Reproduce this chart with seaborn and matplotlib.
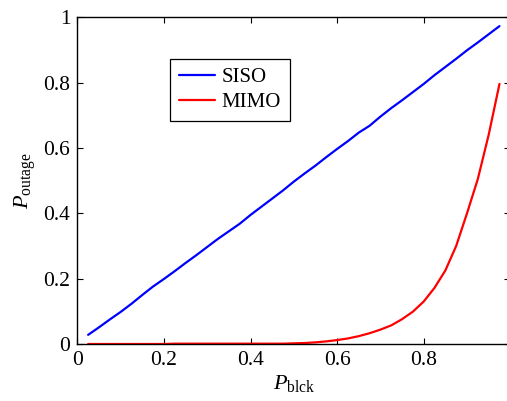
import numpy as np
import pandas as pd
import matplotlib
matplotlib.use("Agg")
import matplotlib.pyplot as plt
import seaborn as sns

# Blocking probability grid
p_blck = [0.025, 0.05, 0.075, 0.1, 0.125, 0.15, 0.175, 0.2, 0.225, 0.25,
          0.275, 0.3, 0.325, 0.35, 0.375, 0.4, 0.425, 0.45, 0.475, 0.5,
          0.525, 0.55, 0.575, 0.6, 0.625, 0.65, 0.675, 0.7, 0.725, 0.75,
          0.775, 0.8, 0.825, 0.85, 0.875, 0.9, 0.925, 0.95, 0.975]

# Outage probability, single-antenna link
siso = [0.028, 0.051, 0.075, 0.098, 0.123, 0.150, 0.176, 0.199, 0.223, 0.248,
        0.272, 0.297, 0.322, 0.345, 0.368, 0.395, 0.420, 0.445, 0.470, 0.497,
        0.522, 0.546, 0.572, 0.597, 0.621, 0.647, 0.668, 0.696, 0.722, 0.746,
        0.771, 0.796, 0.823, 0.848, 0.873, 0.899, 0.923, 0.948, 0.973]

# Outage probability, multi-antenna link
mimo = [0.0, 0.0, 0.0, 0.0, 0.0, 0.0, 0.0, 0.0, 0.001, 0.001,
        0.001, 0.001, 0.001, 0.001, 0.001, 0.001, 0.001, 0.001, 0.001, 0.002,
        0.003, 0.005, 0.008, 0.012, 0.017, 0.024, 0.033, 0.044, 0.057, 0.076,
        0.099, 0.130, 0.172, 0.225, 0.300, 0.400, 0.505, 0.640, 0.796]

series_names = ["SISO", "MIMO"]
series_colors = {"SISO": "#0000ff", "MIMO": "#ff0000"}

x_ticks = [0, 0.2, 0.4, 0.6, 0.8, 1.0]
x_tick_labels = ["0", "0.2", "0.4", "0.6", "0.8", ""]
y_ticks = [0, 0.2, 0.4, 0.6, 0.8, 1.0]
y_tick_labels = ["0", "0.2", "0.4", "0.6", "0.8", "1"]

df = pd.DataFrame({
    "p": p_blck * 2,
    "outage": siso + mimo,
    "scheme": ["SISO"] * len(siso) + ["MIMO"] * len(mimo),
})

sns.set_theme(style="ticks")
plt.rcParams.update({
    "font.family": ["Liberation Serif", "DejaVu Serif"],
    "mathtext.fontset": "custom",
    "mathtext.rm": "Liberation Serif",
    "mathtext.it": "Liberation Serif:italic",
    "axes.edgecolor": "black",
    "axes.linewidth": 1.0,
    "xtick.color": "black",
    "ytick.color": "black",
    "text.color": "black",
    "axes.labelcolor": "black",
})

fig = plt.figure(figsize=(5.07, 4.01), dpi=100)
ax = fig.add_axes([77.3 / 507, 57 / 401, 433 / 507, 326.7 / 401])

sns.lineplot(data=df, x="p", y="outage", hue="scheme", hue_order=series_names,
             palette=series_colors, linewidth=1.6, ax=ax, legend=False)

ax.set_xlim(0, 1)
ax.set_ylim(0, 1)
ax.set_xticks(x_ticks)
ax.set_xticklabels(x_tick_labels)
ax.set_yticks(y_ticks)
ax.set_yticklabels(y_tick_labels)
ax.tick_params(direction="in", length=4, width=0.8, labelsize=15.5,
               top=True, right=True, pad=5)
for s in ax.spines.values():
    s.set_visible(True)
    s.set_color("black")

ax.set_xlabel(r"$P_{\rm blck}$", fontsize=16, labelpad=2)
ax.set_ylabel(r"$P_{\rm outage}$", fontsize=16, labelpad=4)

handles = [plt.Line2D([], [], color=series_colors[n], linewidth=1.6) for n in series_names]
leg = ax.legend(handles, series_names, loc="upper left",
                bbox_to_anchor=(0.214, 0.872), fontsize=15, frameon=True,
                fancybox=False, edgecolor="black", framealpha=1,
                handlelength=1.75, handletextpad=0.3, borderpad=0.42,
                labelspacing=0.25, borderaxespad=0)
leg.get_frame().set_linewidth(0.9)

fig.savefig("out.png", dpi=100)
